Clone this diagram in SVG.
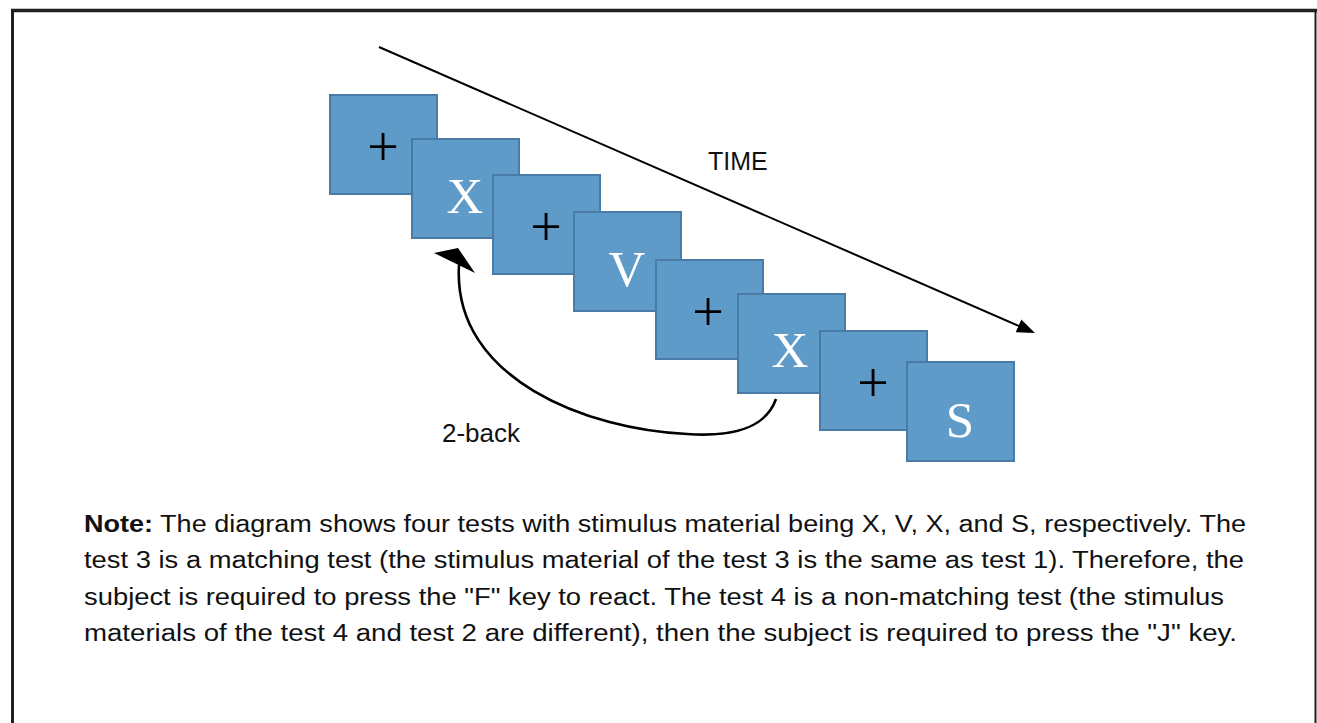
<svg xmlns="http://www.w3.org/2000/svg" width="1317" height="723" viewBox="0 0 1317 723">
<defs>
<style>
.box{fill:#5e9bc9;stroke:#4a7ba6;stroke-width:2}
.plus{font-family:"Liberation Serif",serif;font-size:56px;fill:#000;text-anchor:middle}
.stim{font-family:"Liberation Serif",serif;font-size:51px;fill:#fff;text-anchor:middle}
.lbl{font-family:"Liberation Sans",Arial,sans-serif;fill:#111}
.note{font-family:"Liberation Sans",Arial,sans-serif;font-size:23px;fill:#111}
.frame{stroke:#231f20;fill:none}
</style>
<marker id="arr" markerUnits="userSpaceOnUse" markerWidth="20" markerHeight="16" refX="8" refY="7" orient="auto">
<path d="M0,0 L18,7 L0,14 z" fill="#000"/>
</marker>
</defs>
<rect width="1317" height="723" fill="#fff"/>
<g id="frame">
<line class="frame" x1="11" y1="10.5" x2="1317" y2="10.5" stroke-width="3.5"/>
<line class="frame" x1="12.5" y1="9" x2="12.5" y2="723" stroke-width="3"/>
<line class="frame" x1="1315.5" y1="9" x2="1315.5" y2="723" stroke-width="2"/>
</g>
<g id="connectors">
<line x1="379" y1="47" x2="1025.8" y2="329" stroke="#000" stroke-width="2" marker-end="url(#arr)"/>
<path d="M776,399 C765,430 730,437 687,434 C590,430 452,380 459,265" fill="none" stroke="#000" stroke-width="2.6"/>
<polygon points="434,253 458,248 475,273" fill="#000"/>
</g>
<g id="n1"><rect class="box" x="330" y="95" width="107" height="99"/><text class="plus" x="383" y="166">+</text></g>
<g id="n2"><rect class="box" x="412" y="139" width="107" height="99"/><text class="stim" x="465" y="213">X</text></g>
<g id="n3"><rect class="box" x="493" y="175" width="107" height="99"/><text class="plus" x="546" y="246">+</text></g>
<g id="n4"><rect class="box" x="574" y="212" width="107" height="99"/><text class="stim" x="627" y="286">V</text></g>
<g id="n5"><rect class="box" x="656" y="260" width="107" height="99"/><text class="plus" x="708" y="331">+</text></g>
<g id="n6"><rect class="box" x="738" y="294" width="107" height="99"/><text class="stim" x="790" y="367">X</text></g>
<g id="n7"><rect class="box" x="820" y="331" width="107" height="99"/><text class="plus" x="873" y="402">+</text></g>
<g id="n8"><rect class="box" x="907" y="362" width="107" height="99"/><text class="stim" x="960" y="437">S</text></g>
<g id="labels">
<text class="lbl" x="708" y="170" font-size="25">TIME</text>
<text class="lbl" x="442" y="442" font-size="26">2-back</text>
</g>
<g id="note">
<text class="note" x="84" y="532" textLength="1162" lengthAdjust="spacingAndGlyphs"><tspan font-weight="bold">Note:</tspan> The diagram shows four tests with stimulus material being X, V, X, and S, respectively. The</text>
<text class="note" x="84" y="568" textLength="1160" lengthAdjust="spacingAndGlyphs">test 3 is a matching test (the stimulus material of the test 3 is the same as test 1). Therefore, the</text>
<text class="note" x="84" y="605" textLength="1140" lengthAdjust="spacingAndGlyphs">subject is required to press the "F" key to react. The test 4 is a non-matching test (the stimulus</text>
<text class="note" x="84" y="641" textLength="1153" lengthAdjust="spacingAndGlyphs">materials of the test 4 and test 2 are different), then the subject is required to press the "J" key.</text>
</g>
</svg>
